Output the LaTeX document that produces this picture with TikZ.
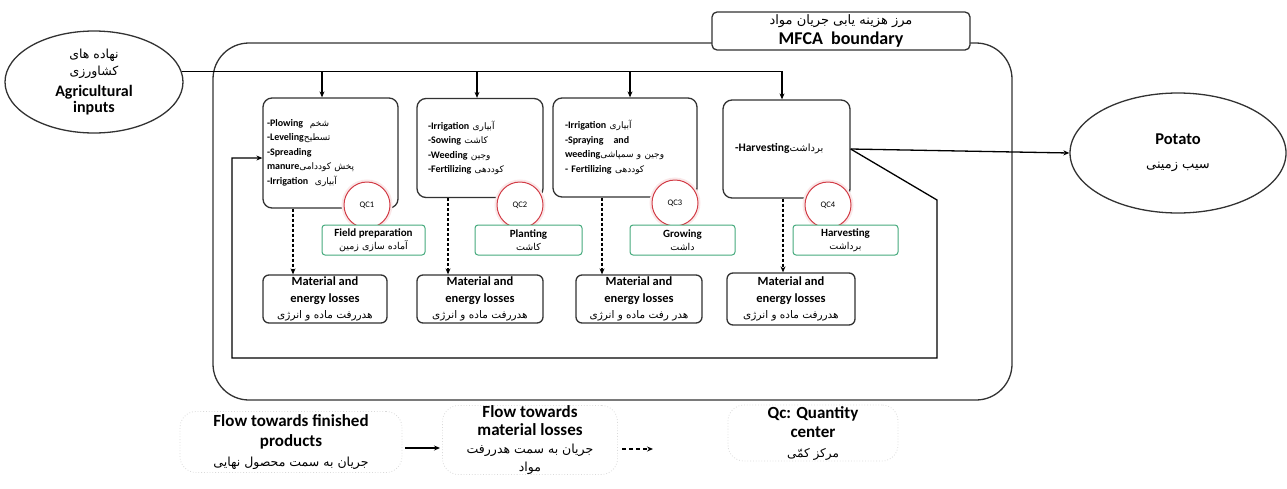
\documentclass[tikz,border=0pt]{standalone}
\usepackage{fontspec}
\setmainfont{Carlito}
\newfontfamily\fa[Script=Arabic]{DejaVu Sans}
\TeXXeTstate=1
\newcommand{\pe}[2][7]{{\fa\mdseries\fontsize{#1}{#1}\selectfont\beginR #2\endR}}
\usetikzlibrary{arrows.meta,shapes.geometric,calc}
\definecolor{qcred}{RGB}{210,60,70}
\definecolor{stgreen}{RGB}{70,170,125}
\definecolor{edge}{RGB}{50,50,50}
\begin{document}
\begin{tikzpicture}[x=1pt,y=-1pt,
  >={Stealth[length=6pt,width=5pt]},
  proc/.style={draw=edge,line width=1.3pt,rounded corners=9pt,fill=white,align=left,font=\fontsize{10}{14.5}\selectfont\bfseries},
  loss/.style={draw=edge,line width=1.3pt,rounded corners=6pt,fill=white,minimum height=48pt,align=center,font=\fontsize{12.5}{16.5}\selectfont\bfseries,inner sep=0pt},
  qc/.style={circle,draw=qcred,line width=1pt,fill=white,minimum size=46pt,inner sep=0pt,font=\fontsize{8.5}{9}\selectfont,
    preaction={draw=qcred!12,line width=5pt}},
  stage/.style={draw=stgreen,line width=1pt,rounded corners=3pt,fill=white,minimum height=30pt,align=center,inner sep=0pt,font=\fontsize{11}{13}\selectfont\bfseries},
  leg/.style={draw=black!15,dotted,line width=0.8pt,rounded corners=16pt,align=center,inner sep=0pt},
  flow/.style={line width=1.3pt,draw=black},
  ]
\useasboundingbox (0,0) rectangle (1287,488);

% boundary
\draw[draw=edge,line width=1.3pt,rounded corners=36pt] (213,43) rectangle (1012,400);
\node[draw=edge,line width=1.3pt,rounded corners=5pt,fill=white,minimum width=258pt,minimum height=38pt,align=center,inner sep=0pt,font=\fontsize{18}{20}\selectfont\bfseries] (mfca) at (841,31) {\raisebox{1pt}{\pe[13]{مرز هزینه یابی جریان مواد}}\\[-1pt]MFCA~~boundary};

% outside ellipses
\node[ellipse,draw=edge,line width=1.3pt,minimum width=178pt,minimum height=102pt,inner sep=0pt,align=center,font=\fontsize{16}{16.5}\selectfont\bfseries] (inp) at (94,82) {\pe[12.5]{نهاده های}\\[1pt]\pe[12.5]{کشاورزی}\\[4pt]Agricultural\\inputs};
\node[ellipse,draw=edge,line width=1.3pt,minimum width=216pt,minimum height=120pt,inner sep=0pt,align=center,font=\fontsize{16.5}{24}\selectfont\bfseries] (pot) at (1178,153) {Potato\\\pe[13]{سیب زمینی}};

% process boxes
\node[proc,minimum width=135pt,minimum height=110pt,text width=127pt,inner xsep=4pt] (P1) at (330.5,153)
 {-Plowing~~\pe[9]{شخم}\\-Leveling\pe[9]{تسطیح}\\-Spreading\\manure\pe[9]{پخش کوددامی}\\-Irrigation~~\pe[9]{آبیاری}};
\node[proc,minimum width=126pt,minimum height=99pt,text width=104pt,inner xsep=11pt] (P2) at (480,148)
 {-Irrigation \pe[9]{آبیاری}\\-Sowing \pe[9]{کاشت}\\-Weeding \pe[9]{وجین}\\-Fertilizing \pe[9]{کوددهی}};
\node[proc,minimum width=144pt,minimum height=99pt,text width=120pt,inner xsep=12pt] (P3) at (625,147.5)
 {-Irrigation \pe[9]{آبیاری}\\-Spraying~~ and\\weeding\pe[9]{وجین و سمپاشی}\\- Fertilizing \pe[9]{کوددهی}};
\node[proc,minimum width=127pt,minimum height=98pt,text width=103pt,inner xsep=12pt,font=\fontsize{11.5}{14}\selectfont\bfseries] (P4) at (786.5,149)
 {-Harvesting\pe[10]{برداشت}};

% QC circles
\node[qc] (Q1) at (367,205) {QC1};
\node[qc] (Q2) at (520,205) {QC2};
\node[qc] (Q3) at (675,203) {QC3};
\node[qc] (Q4) at (828,205) {QC4};

% stage labels
\node[stage,minimum width=103pt] (G1) at (373.5,240) {Field preparation\\\pe[9.5]{آماده سازی زمین}};
\node[stage,minimum width=107pt] (G2) at (528.5,240) {Planting\\\pe[9.5]{کاشت}};
\node[stage,minimum width=105pt] (G3) at (682.5,240) {Growing\\\pe[9.5]{داشت}};
\node[stage,minimum width=105pt] (G4) at (845.5,240) {Harvesting\\\pe[9.5]{برداشت}};

% loss boxes
\node[loss,minimum width=124pt] (L1) at (325,299) {Material and\\energy losses\\\pe[10.5]{هدررفت ماده و انرژی}};
\node[loss,minimum width=126pt] (L2) at (480,299) {Material and\\energy losses\\\pe[10.5]{هدررفت ماده و انرژی}};
\node[loss,minimum width=126pt] (L3) at (639,299) {Material and\\energy losses\\\pe[10.5]{هدر رفت ماده و انرژی}};
\node[loss,minimum width=128pt,minimum height=52pt] (L4) at (791,299) {Material and\\energy losses\\\pe[10.5]{هدررفت ماده و انرژی}};

% input line and arrows
\coordinate (a1) at (322,0);
\coordinate (a2) at (477,0);
\coordinate (a3) at (630,0);
\coordinate (a4) at (782,0);
\draw[flow] (inp.7) -- (inp.7 -| a4);
\foreach \i in {1,2,3,4} \draw[flow,->] (inp.7 -| a\i) -- (a\i |- P\i.north);

% dashed loss arrows
\coordinate (d1) at (293,0);
\coordinate (d2) at (448,0);
\coordinate (d3) at (602,0);
\coordinate (d4) at (783,0);
\foreach \i in {1,2,3,4} \draw[flow,dash pattern=on 3pt off 2pt,->] (d\i |- P\i.south) -- (d\i |- L\i.north);

% product and feedback
\draw[flow,->] (P4.east) -- (pot.west);
\coordinate (fb1) at (937,200);
\coordinate (fb2) at (937,358);
\coordinate (fb3) at (232,358);
\coordinate (fb4) at (232,158);
\draw[flow,->] (P4.east) -- (fb1) -- (fb2) -- (fb3) -- (fb4) -- (fb4 -| P1.west);

% legend
\node[leg,minimum width=222pt,minimum height=61pt,font=\fontsize{17}{20}\selectfont\bfseries] (F1) at (291,442) {Flow towards finished\\products\\\pe[12.5]{جریان به سمت محصول نهایی}};
\node[leg,minimum width=175pt,minimum height=59pt,font=\fontsize{17}{18}\selectfont\bfseries] (F2) at (530,440) {Flow towards\\material losses\\\pe[12.5]{جریان به سمت هدررفت}\\\pe[12.5]{مواد}};
\node[leg,minimum width=170pt,minimum height=56pt,font=\fontsize{17}{19.5}\selectfont\bfseries] (F3) at (813,433) {Qc: Quantity\\center\\\pe[12]{مرکز کمّی}};
\coordinate (la) at (405,448);
\draw[flow,->] (la) -- ++(35,0);
\coordinate (lb) at (622,449);
\draw[flow,dash pattern=on 4pt off 3pt,->] (lb) -- ++(31,0);
\end{tikzpicture}
\end{document}
